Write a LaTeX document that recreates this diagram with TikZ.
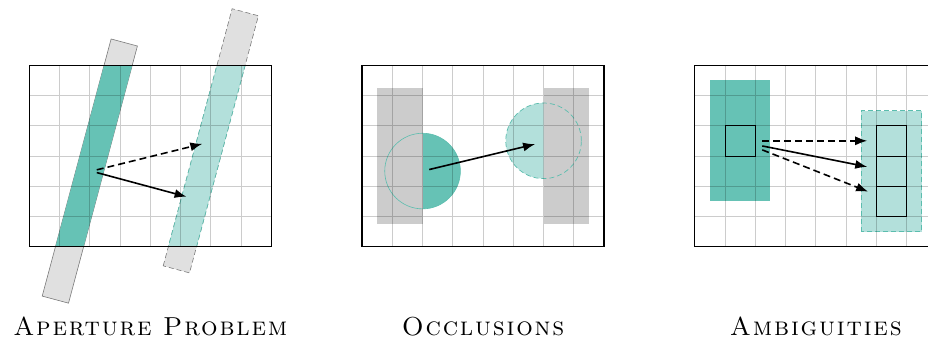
\documentclass[tikz,border=0pt]{standalone}
\usepackage{fontspec}
\newfontfamily\capfont[LetterSpace=7]{lmromancaps10-regular.otf}
\usetikzlibrary{arrows.meta}
\definecolor{tealfill}{HTML}{66C2B5}
\definecolor{lightteal}{HTML}{B3E0DB}
\definecolor{tealline}{HTML}{5BBDAE}
\definecolor{stripgray}{HTML}{E0E0E0}
\definecolor{stripborder}{HTML}{7A7A7A}
\definecolor{occgray}{HTML}{CCCCCC}
\begin{document}
\begin{tikzpicture}[x=30.25pt,y=30.25pt,
  gridline/.style={draw=black,opacity=0.2,line width=0.8pt},
  frame/.style={draw=black,line width=1.3pt},
  motion/.style={line width=1.6pt,-{Latex[length=12pt,width=9pt]}},
  motiondash/.style={motion,dash pattern=on 7pt off 4pt},
  stripsolid/.style={fill=stripgray,draw=stripborder,line width=0.6pt},
  stripdash/.style={fill=stripgray,draw=stripborder,line width=0.6pt,dash pattern=on 5pt off 3pt},
  tealdash/.style={draw=tealline,line width=0.7pt,dash pattern=on 5pt off 3pt},
  cell/.style={draw=black,line width=0.8pt},
  caption/.style={font=\capfont\fontsize{26}{26}\selectfont,anchor=base,inner sep=0pt}]
\clip (-0.969,-3.183) rectangle (29.709,8.155);

% ---------------- Panel 1: aperture problem ----------------
\draw[stripsolid,shift={(2,2.5)},rotate=-15] (-0.45,-4.4) rectangle (0.45,4.4);
\draw[stripdash,shift={(6,3.5)},rotate=-15] (-0.45,-4.4) rectangle (0.45,4.4);
\begin{scope}
  \clip (0,0) rectangle (8,6);
  \fill[tealfill,shift={(2,2.5)},rotate=-15] (-0.45,-4.4) rectangle (0.45,4.4);
  \fill[lightteal,shift={(6,3.5)},rotate=-15] (-0.45,-4.4) rectangle (0.45,4.4);
  \draw[tealdash,shift={(6,3.5)},rotate=-15] (-0.45,-4.4) rectangle (0.45,4.4);
\end{scope}
\draw[gridline,step={(1,1)}] (0,0) grid (8,6);
\draw[frame] (0,0) rectangle (8,6);
\coordinate (a1s) at (2.23,2.54);
\coordinate (a1e) at (5.72,3.40);
\coordinate (a2s) at (2.23,2.45);
\coordinate (a2e) at (5.20,1.65);
\draw[motiondash] (a1s) -- (a1e);
\draw[motion] (a2s) -- (a2e);
\node[caption] (capA) at (4,-2.95) {Aperture Problem};

% ---------------- Panel 2: occlusions ----------------
\begin{scope}[shift={(11,0)}]
  \fill[tealfill] (2,1.25) arc[start angle=-90,end angle=90,radius=1.25] -- cycle;
  \fill[lightteal] (6,3.5+1.25) arc[start angle=90,end angle=270,radius=1.25] -- cycle;
  \fill[occgray] (0.5,0.75) rectangle (2,5.25);
  \fill[occgray] (6,0.75) rectangle (7.5,5.25);
  \draw[tealline,line width=0.6pt] (2,2.5) circle[radius=1.25];
  \draw[tealdash] (6,3.5) circle[radius=1.25];
  \draw[gridline,step={(1,1)}] (0,0) grid (8,6);
  \draw[frame] (0,0) rectangle (8,6);
  \coordinate (b1s) at (2.22,2.55);
  \coordinate (b1e) at (5.72,3.39);
  \draw[motion] (b1s) -- (b1e);
  \node[caption] (capB) at (4,-2.95) {Occlusions};
\end{scope}

% ---------------- Panel 3: ambiguities ----------------
\begin{scope}[shift={(22,0)}]
  \fill[tealfill] (0.5,1.5) rectangle (2.5,5.5);
  \fill[lightteal] (5.5,0.5) rectangle (7.5,4.5);
  \draw[tealdash] (5.5,0.5) rectangle (7.5,4.5);
  \draw[gridline,step={(1,1)}] (0,0) grid (8,6);
  \draw[frame] (0,0) rectangle (8,6);
  \draw[cell] (1,3) rectangle (2,4);
  \draw[cell] (6,1) rectangle (7,2);
  \draw[cell] (6,2) rectangle (7,3);
  \draw[cell] (6,3) rectangle (7,4);
  \coordinate (c1s) at (2.23,3.50);
  \coordinate (c1e) at (5.70,3.50);
  \coordinate (c2s) at (2.23,3.33);
  \coordinate (c2e) at (5.70,2.64);
  \coordinate (c3s) at (2.23,3.20);
  \coordinate (c3e) at (5.73,1.82);
  \draw[motiondash] (c1s) -- (c1e);
  \draw[motion] (c2s) -- (c2e);
  \draw[motiondash] (c3s) -- (c3e);
  \node[caption] (capC) at (4,-2.95) {Ambiguities};
\end{scope}
\end{tikzpicture}
\end{document}
